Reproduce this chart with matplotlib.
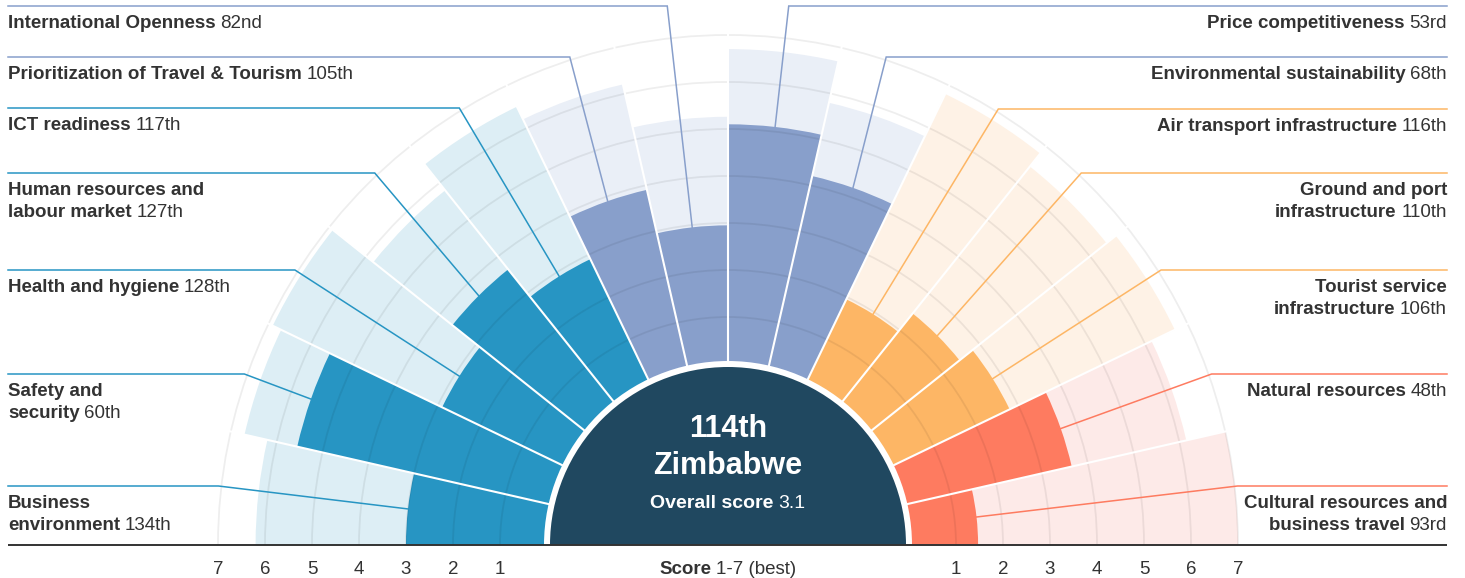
import numpy as np
import matplotlib
matplotlib.use("Agg")
import matplotlib.pyplot as plt
from matplotlib.patches import Wedge, Arc

plt.rcParams['font.family'] = ['Liberation Sans', 'DejaVu Sans']

W, H = 1465, 578
CX, CY = 728, H - 545      # centre of the half disc (y measured upwards)
R0, UNIT = 181, 47         # radius of score 0, pixels per score point
TXT = '#333333'

# pillars, going clockwise from the bottom left
pillars = ["Business\nenvironment", "Safety and\nsecurity", "Health and hygiene",
           "Human resources and\nlabour market", "ICT readiness",
           "Prioritization of Travel & Tourism", "International Openness",
           "Price competitiveness", "Environmental sustainability",
           "Air transport infrastructure", "Ground and port\ninfrastructure",
           "Tourist service\ninfrastructure", "Natural resources",
           "Cultural resources and\nbusiness travel"]
ranks = ["134th", "60th", "128th", "127th", "117th", "105th", "82nd",
         "53rd", "68th", "116th", "110th", "106th", "48th", "93rd"]
scores = [3.0, 5.55, 2.9, 3.65, 2.9, 3.9, 2.95, 5.1, 4.2, 1.95, 2.45, 2.8, 3.65, 1.47]
best = [6.2, 6.7, 6.9, 5.8, 6.5, 6.2, 5.26, 6.7, 5.8, 6.8, 6.45, 6.7, 6.15, 7.0]
groups = [0, 0, 0, 0, 0, 1, 1, 1, 1, 2, 2, 2, 3, 3]

country = "Zimbabwe"
overall_rank = "114th"
overall_score = "3.1"
ticks = [1, 2, 3, 4, 5, 6, 7]

dark = ['#2795c3', '#889fcb', '#fdb665', '#fe7b60']
light = ['#ddeef5', '#eaeff7', '#fef2e6', '#fdeae8']

# label rows (pixels from the top) for each pillar
rows = [486, 374, 270, 173, 108, 57, 6, 6, 57, 109, 173, 270, 374, 486]
FS = 13.5


def rad(s):
    return R0 + UNIT * s


fig = plt.figure(figsize=(W / 100, H / 100), dpi=100)
ax = fig.add_axes([0, 0, 1, 1])
ax.set_xlim(0, W)
ax.set_ylim(0, H)
ax.axis('off')
renderer = fig.canvas.get_renderer()

n = len(pillars)
step = 180 / n

for i in range(n):
    a1, a2 = 180 - (i + 1) * step, 180 - i * step
    g = groups[i]
    ax.add_patch(Wedge((CX, CY), rad(best[i]), a1, a2, fc=light[g], ec='none', zorder=1))
    ax.add_patch(Wedge((CX, CY), rad(scores[i]), a1, a2, fc=dark[g], ec='none', zorder=2))

# score rings
for t in ticks:
    ax.add_patch(Arc((CX, CY), 2 * rad(t), 2 * rad(t), theta1=0, theta2=180,
                     color='black', alpha=0.065, lw=1.3, zorder=3))

# white gaps between the bars
for k in range(1, n):
    a = np.radians(k * step)
    ax.plot([CX + 150 * np.cos(a), CX + 525 * np.cos(a)],
            [CY + 150 * np.sin(a), CY + 525 * np.sin(a)],
            color='white', lw=1.5, zorder=4, solid_capstyle='butt')

# centre half disc with a white ring round it
ax.add_patch(Wedge((CX, CY), 184, 0, 180, fc='white', ec='none', zorder=5))
ax.add_patch(Wedge((CX, CY), 178, 0, 180, fc='#204860', ec='none', zorder=6))

# base line
ax.plot([8, W - 18], [CY, CY], color=TXT, lw=1.4, zorder=7, solid_capstyle='butt')


def width_of(t):
    return t.get_window_extent(renderer).width


def mixed(x, y, bold, reg, align, size=FS, color=TXT):
    gap = size * 0.36
    if align == 'left':
        tb = ax.text(x, y, bold, fontsize=size, fontweight='bold', color=color,
                     ha='left', va='baseline', zorder=9)
        if reg:
            ax.text(x + width_of(tb) + gap, y, reg, fontsize=size, color=color,
                    ha='left', va='baseline', zorder=9)
    elif align == 'right':
        xr = x
        if reg:
            tr = ax.text(x, y, reg, fontsize=size, color=color,
                         ha='right', va='baseline', zorder=9)
            xr = x - width_of(tr) - gap
        ax.text(xr, y, bold, fontsize=size, fontweight='bold', color=color,
                ha='right', va='baseline', zorder=9)
    else:
        tb = ax.text(0, y, bold, fontsize=size, fontweight='bold', color=color,
                     ha='left', va='baseline', zorder=9)
        tr = ax.text(0, y, reg, fontsize=size, color=color,
                     ha='left', va='baseline', zorder=9)
        wb, wr = width_of(tb), width_of(tr)
        x0 = x - (wb + gap + wr) / 2
        tb.set_x(x0)
        tr.set_x(x0 + wb + gap)


R_ELBOW = 513
for i in range(n):
    g = groups[i]
    a = np.radians(180 - (i + 0.5) * step)
    r_end = rad(scores[i])
    x_end, y_end = CX + r_end * np.cos(a), CY + r_end * np.sin(a)
    y_line = H - rows[i]
    dy = y_line - CY
    left = i < n / 2
    if dy < R_ELBOW:
        dx = np.sqrt(R_ELBOW ** 2 - dy ** 2)
        x_elb = CX - dx if left else CX + dx
    else:
        x_elb = CX + dy / np.tan(a)
    x_far = 8 if left else W - 18
    ax.plot([x_end, x_elb, x_far], [y_end, y_line, y_line], color=dark[g],
            lw=1.1, zorder=8, solid_joinstyle='miter')

    lines = pillars[i].split('\n')
    for j, ln in enumerate(lines):
        yb = H - (rows[i] + 22 + 22 * j)
        reg = ranks[i] if j == len(lines) - 1 else None
        mixed(x_far, yb, ln, reg, 'left' if left else 'right')

# score axis labels
for t in ticks:
    for sgn in (-1, 1):
        ax.text(CX + sgn * rad(t), H - 574, str(t), fontsize=FS, color=TXT,
                ha='center', va='baseline')
mixed(CX, H - 574, "Score", "1-7 (best)", 'center')

# centre
ax.text(CX, H - 437, overall_rank, fontsize=22, fontweight='bold', color='white',
        ha='center', va='baseline', zorder=9)
ax.text(CX, H - 474, country, fontsize=22, fontweight='bold', color='white',
        ha='center', va='baseline', zorder=9)
mixed(CX, H - 508, "Overall score", overall_score, 'center', size=14, color='white')

fig.savefig('out.png', dpi=100, facecolor='white')
